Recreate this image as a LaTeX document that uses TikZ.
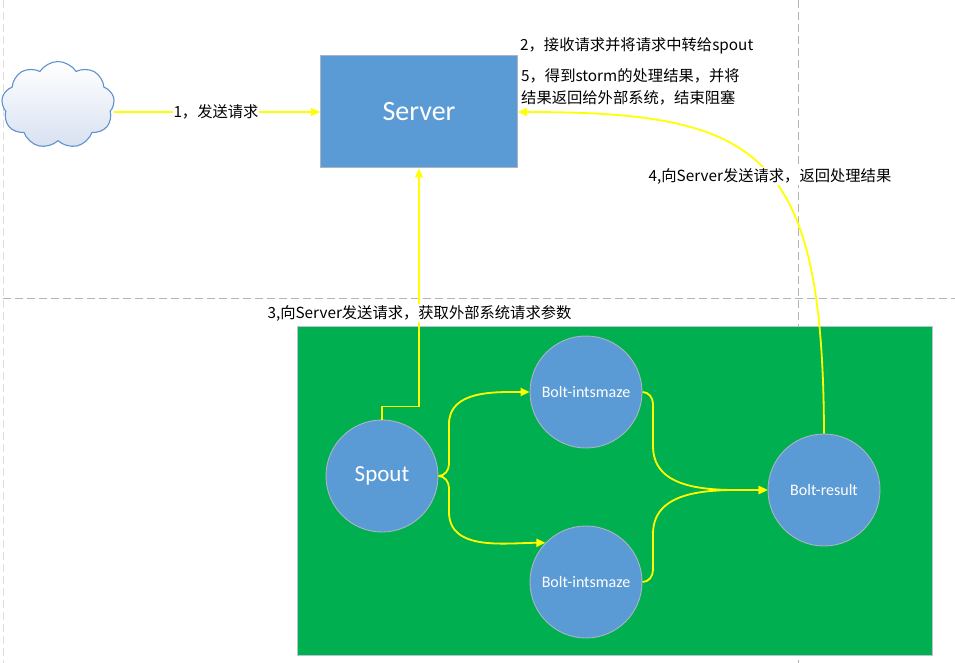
\documentclass[tikz,border=0pt]{standalone}
\usepackage{fontspec}
\setmainfont{Carlito}
\newfontfamily\cjk{Noto Sans CJK SC}
\usetikzlibrary{arrows.meta,shapes.symbols}
\definecolor{srvblue}{HTML}{5B9BD5}
\definecolor{grn}{HTML}{00B050}
\definecolor{yel}{HTML}{FFFF00}
\definecolor{gridc}{HTML}{B4B4B4}
\definecolor{cloudline}{HTML}{5F92CC}
\definecolor{cloudfill}{HTML}{D8E1F1}
\definecolor{edgec}{HTML}{A9B5C4}
\begin{document}
\begin{tikzpicture}[x=1pt,y=-1pt,
  guide/.style={draw=gridc, line width=0.9pt, dash pattern=on 8pt off 4pt},
  conn/.style={draw=yel, line width=1.8pt, -{Triangle[length=9pt,width=8pt]}},
  bubble/.style={circle, fill=srvblue, draw=edgec, line width=0.9pt, minimum size=112pt,
     inner sep=0pt, text=white, font=\fontsize{16}{18}\selectfont},
  lbl/.style={fill=white, inner sep=1pt, text=black, font=\cjk\fontsize{15.3}{22}\selectfont},
  note/.style={anchor=west, align=left, inner sep=0pt, text=black, font=\cjk\fontsize{15.3}{22}\selectfont}]
\fill[white] (0,0) rectangle (955,663);
\useasboundingbox (0,0) rectangle (955,663);

% guide lines
\draw[guide, draw=gridc!45] (3,0) -- (3,663);
\draw[guide] (3,298) -- (955,298);
\draw[guide] (798,0) -- (798,663);

% storm topology area
\node[fill=grn, draw=edgec!80, line width=1pt, minimum width=635pt, minimum height=329pt,
      inner sep=0pt, anchor=north west] (topo) at (297,326) {};

% server
\node[fill=srvblue, draw=edgec, line width=1pt, minimum width=197pt, minimum height=112pt,
      text=white, font=\fontsize{28}{32}\selectfont] (srv) at (419,112) {Server};

% cloud
\node[cloud, cloud puffs=9, cloud puff arc=115, aspect=1.3, minimum width=113pt,
      minimum height=87pt, draw=cloudline, line width=1.1pt, top color=white,
      bottom color=cloudfill, inner sep=0pt] (cloud) at (58,105) {};

% circles
\node[bubble, font=\fontsize{23}{26}\selectfont] (sp) at (382,476) {Spout};
\node[bubble] (b1) at (586,392) {Bolt-intsmaze};
\node[bubble] (b2) at (586,582) {Bolt-intsmaze};
\node[bubble] (res) at (824,490) {Bolt-result};

% connectors
\draw[conn, line width=1.3pt] (cloud.east |- srv.west) -- (srv.west);
\draw[conn] (sp.north) -- ++(0,-13) -| (srv.south);
\draw[conn] (sp.east) to[out=0,in=-90] (449,464) -- (449,424) to[out=90,in=180] (b1.west);
\draw[conn] (sp.east) to[out=0,in=90] (449,488) -- (449,512) to[out=-90,in=180] (b2.136);
\draw[conn] (b1.east) to[out=0,in=90] (653,404) -- (653,446) to[out=-90,in=180] (res.west);
\draw[conn] (b2.east) to[out=0,in=-90] (653,570) -- (653,534) to[out=90,in=180] (res.west);
\draw[conn] (res.north) .. controls (823,150) and (760,112) .. (srv.east);

% labels
\node[lbl] (l1) at (216,112) {1，发送请求};
\node[lbl] (l3) at (419.5,313) {3,向Server发送请求，获取外部系统请求参数};
\node[lbl] (l4) at (770,176) {4,向Server发送请求，返回处理结果};
\node[note] (t2) at (520,46) {2，接收请求并将请求中转给spout};
\node[note] (t5) at (521,87) {5，得到storm的处理结果，并将\\结果返回给外部系统，结束阻塞};
\end{tikzpicture}
\end{document}
